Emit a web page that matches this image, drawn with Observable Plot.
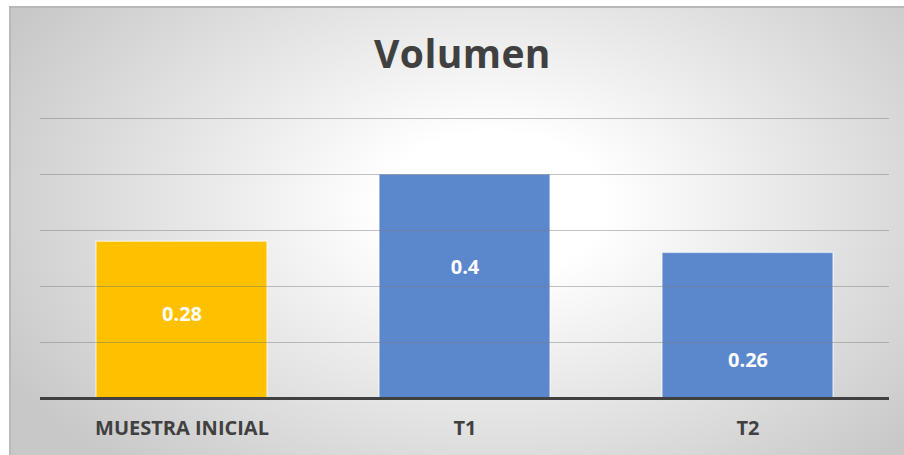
<!DOCTYPE html>
<html>
<head>
<meta charset="utf-8">
<script src="https://cdn.jsdelivr.net/npm/d3@7"></script>
<script src="https://cdn.jsdelivr.net/npm/@observablehq/plot@0.6"></script>
<style>
  html, body { margin: 0; padding: 0; background: #ffffff; }
  #frame {
    position: absolute; left: 9px; top: 6px; width: 895px; height: 449px;
    box-sizing: border-box;
    border-top: 2px solid #b8b8b8; border-left: 2px solid #b8b8b8;
    background: radial-gradient(ellipse 62% 80% at 54% 44%, #ffffff 0%, #ffffff 20%, #c8c8c8 100%);
    overflow: hidden;
  }
  #title {
    position: absolute; left: 0; top: 0; width: 904px; height: 95px;
    text-align: center; font-family: "Open Sans", sans-serif; font-weight: 700;
    font-size: 39px; color: #404040; line-height: 106px;
    padding-left: 21px; box-sizing: border-box; letter-spacing: 0.4px;
  }
  #chart { position: absolute; left: 0; top: 95px; }
</style>
</head>
<body>
<div id="frame"></div>
<div id="title">Volumen</div>
<div id="chart"></div>
<script>
const categories = ["MUESTRA INICIAL", "T1", "T2"];
const values = [0.28, 0.4, 0.26];
const valueLabels = ["0.28", "0.4", "0.26"];
const gridTicks = [0.1, 0.2, 0.3, 0.4, 0.5];

const colors = ["#FFC000", "#5B87CD", "#5B87CD"];
const labelAt = [0.15, 0.233, 0.068];

const data = categories.map((c, i) => ({
  cat: c, value: values[i], label: valueLabels[i], color: colors[i], ly: labelAt[i]
}));

const chart = Plot.plot({
  width: 904,
  height: 360,
  marginTop: 23,
  marginBottom: 57,
  marginLeft: 40,
  marginRight: 15,
  style: { background: "transparent", fontFamily: "'Open Sans', sans-serif", overflow: "visible" },
  x: { domain: categories, paddingInner: 0.396, paddingOuter: 0.194, label: null },
  y: { domain: [0, 0.5], axis: null },
  marks: [
    Plot.barY(data, {
      x: "cat", y: "value", fill: d => d.color,
      stroke: "#ffffff", strokeOpacity: 0.55, strokeWidth: 1.5
    }),
    Plot.ruleY(gridTicks, { stroke: "#7a7a7a", strokeOpacity: 0.45, strokeWidth: 1 }),
    Plot.ruleY([0], { stroke: "#404040", strokeWidth: 3 }),
    Plot.text(data, {
      x: "cat", y: "ly", text: "label", fill: "#ffffff",
      fontSize: 20, fontWeight: 700
    }),
    Plot.axisX({
      tickSize: 0, tickPadding: 22, fontSize: 20, fontWeight: 700,
      fill: "#404040", label: null
    })
  ]
});
document.getElementById("chart").appendChild(chart);
</script>
</body>
</html>
